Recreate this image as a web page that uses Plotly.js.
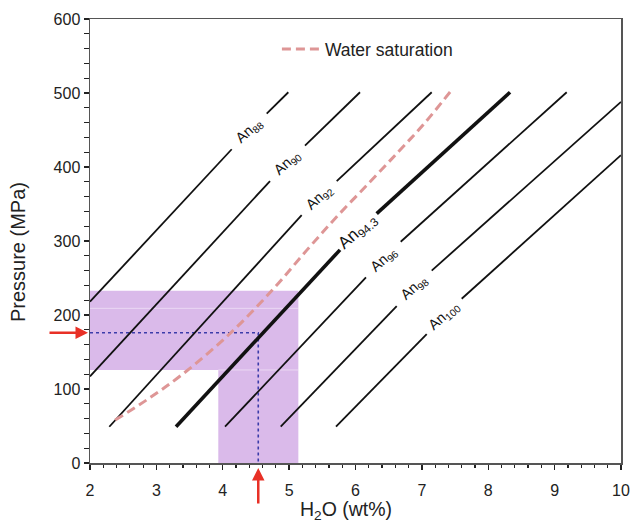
<!DOCTYPE html>
<html>
<head>
<meta charset="utf-8">
<script src="https://cdn.plot.ly/plotly-3.0.1.min.js"></script>
<style>html,body{margin:0;padding:0;background:#fff;}#chart{width:630px;height:523px;}</style>
</head>
<body>
<div id="chart"></div>
<script>
// ---- Data ----
// Anorthite isopleths: H2O (wt%) vs Pressure (MPa); null = gap for the label
const an88X  = [2.0, 4.135, null, 4.662, 4.988];
const an88P  = [218, 424, null, 472, 501];
const an90X  = [2.0, 4.712, null, 5.239, 6.068];
const an90P  = [117, 381, null, 429, 501];
const an92X  = [2.291, 5.189, null, 5.717, 7.148];
const an92P  = [49, 335, null, 381, 501];
const an943X = [3.296, 5.766, null, 6.319, 8.328];
const an943P = [49, 288, null, 337, 501];
const an96X  = [4.034, 6.158, null, 6.681, 9.182];
const an96P  = [49, 251, null, 299, 501];
const an98X  = [4.873, 6.621, null, 7.148, 10.0];
const an98P  = [49, 212, null, 260, 488];
const an100X = [5.706, 7.073, null, 7.6, 10.0];
const an100P = [49, 174, null, 222, 416];

// Water saturation curve
const waterX = [2.38, 2.85, 3.38, 4.11, 4.77, 5.27, 5.72, 6.22, 6.65, 7.02, 7.43];
const waterP = [58, 85, 119, 175, 236, 288, 333, 380, 421, 457, 502];

// Isopleth labels
const labelNames = ['88', '90', '92', '94.3', '96', '98', '100'];
const labelX = [4.40, 4.976, 5.453, 6.04, 6.42, 6.885, 7.34];
const labelP = [448, 405, 358, 312, 275, 236, 198];

// Shaded ranges (H2O and pressure estimates)
const pBandX = [2.0, 5.139];
const pBandP = [125.7, 232.8];
const wBandX = [3.933, 5.139];
const wBandP = [0, 125.7];
const seamP = [209, 125.7];

// Selected solution
const solX = 4.535;
const solP = 176;

const font = 'Liberation Sans, Arial, Helvetica, sans-serif';
const purple = 'rgb(218,186,234)';
const pink = 'rgb(222,150,150)';

function anTrace(x, y, w) {
  return {x: x, y: y, mode: 'lines', type: 'scatter', showlegend: false,
          line: {color: '#111', width: w}, hoverinfo: 'skip', connectgaps: false};
}

const traces = [
  {x: [pBandX[0], solX, solX], y: [solP, solP, 0], mode: 'lines', type: 'scatter', showlegend: false,
   line: {color: 'rgb(60,60,170)', width: 1.6, dash: '3px,3px'}, hoverinfo: 'skip'},
  anTrace(an88X, an88P, 1.8),
  anTrace(an90X, an90P, 1.8),
  anTrace(an92X, an92P, 1.8),
  anTrace(an943X, an943P, 3.6),
  anTrace(an96X, an96P, 1.8),
  anTrace(an98X, an98P, 1.8),
  anTrace(an100X, an100P, 1.8),
  {x: waterX, y: waterP, mode: 'lines', type: 'scatter', name: 'Water saturation',
   line: {color: pink, width: 3, dash: '9px,5px', shape: 'spline', smoothing: 1}}
];

const shapes = [
  {type: 'rect', xref: 'x', yref: 'y', x0: pBandX[0], x1: pBandX[1], y0: pBandP[0], y1: pBandP[1],
   fillcolor: purple, line: {width: 0}, layer: 'below'},
  {type: 'rect', xref: 'x', yref: 'y', x0: wBandX[0], x1: wBandX[1], y0: wBandP[0], y1: wBandP[1],
   fillcolor: purple, line: {width: 0}, layer: 'below'},
  {type: 'line', xref: 'x', yref: 'y', x0: pBandX[0], x1: pBandX[1], y0: seamP[0], y1: seamP[0],
   line: {color: 'rgba(255,255,255,0.45)', width: 1}, layer: 'below'},
  {type: 'line', xref: 'x', yref: 'y', x0: wBandX[0], x1: wBandX[1], y0: seamP[1], y1: seamP[1],
   line: {color: 'rgba(255,255,255,0.45)', width: 1}, layer: 'below'}
];

const annotations = labelNames.map((n, i) => ({
  x: labelX[i], y: labelP[i], xref: 'x', yref: 'y',
  text: 'An<sub>' + n + '</sub>', showarrow: false, textangle: -42,
  xanchor: 'center', yanchor: 'middle',
  font: {family: font, size: n === '94.3' ? 17 : 14.5, color: '#111'}
}));
// axis titles
annotations.push({
  x: 0.482, y: -0.108, xref: 'paper', yref: 'paper', showarrow: false,
  xanchor: 'center', yanchor: 'middle', text: 'H<sub>2</sub>O (wt%)',
  font: {family: font, size: 19.5, color: '#222'}
});
annotations.push({
  x: -0.1356, y: 0.475, xref: 'paper', yref: 'paper', showarrow: false, textangle: -90,
  xanchor: 'center', yanchor: 'middle', text: 'Pressure (MPa)',
  font: {family: font, size: 20, color: '#222'}
});
// red arrows
annotations.push({
  x: pBandX[0], y: solP, xref: 'x', yref: 'y', text: '', showarrow: true,
  ax: -42, ay: 0, arrowcolor: 'rgb(232,48,38)', arrowwidth: 2.5, arrowhead: 2, arrowsize: 1, standoff: 2
});
annotations.push({
  x: solX, y: 0, xref: 'x', yref: 'y', text: '', showarrow: true,
  ax: 0, ay: 42, arrowcolor: 'rgb(232,48,38)', arrowwidth: 2.5, arrowhead: 2, arrowsize: 1, standoff: 5
});

const axisCommon = {
  showline: true, linecolor: '#555', linewidth: 1.5, mirror: true,
  showgrid: false, zeroline: false, ticks: 'outside', ticklen: 5, tickwidth: 1.3, tickcolor: '#222',
  tickfont: {family: font, size: 16, color: '#222'}
};

const layout = {
  width: 630, height: 523,
  margin: {l: 90, r: 9, t: 19, b: 60},
  paper_bgcolor: '#fff', plot_bgcolor: '#fff',
  font: {family: font, color: '#222'},
  xaxis: Object.assign({}, axisCommon, {
    range: [2, 10], dtick: 1, tick0: 2, ticklabelstandoff: 7,
    minor: {dtick: 0.2, ticks: 'outside', ticklen: 3.5, tickwidth: 1.2, tickcolor: '#222', showgrid: false}
  }),
  yaxis: Object.assign({}, axisCommon, {
    range: [0, 600], dtick: 100, tick0: 0,
    minor: {dtick: 20, ticks: 'outside', ticklen: 5, tickwidth: 1.2, tickcolor: '#222', showgrid: false}
  }),
  legend: {x: 0.352, y: 0.932, xanchor: 'left', yanchor: 'middle', bgcolor: 'rgba(0,0,0,0)',
           itemwidth: 38, font: {family: font, size: 17.5, color: '#222'}},
  showlegend: true,
  shapes: shapes,
  annotations: annotations
};

Plotly.newPlot('chart', traces, layout, {displayModeBar: false, staticPlot: true});
</script>
</body>
</html>
